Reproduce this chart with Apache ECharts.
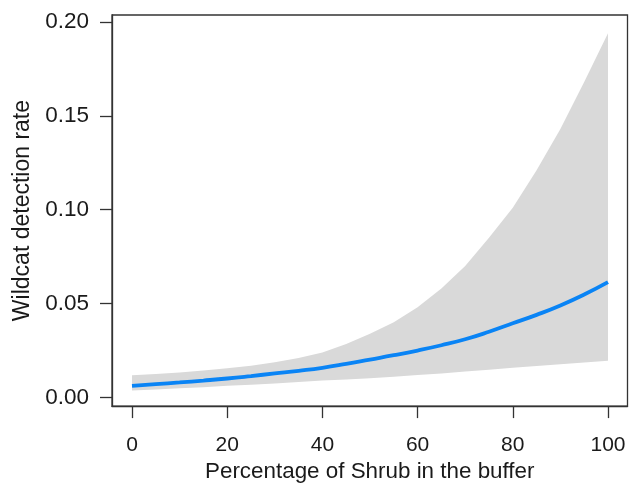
<!DOCTYPE html>
<html>
<head>
<meta charset="utf-8">
<script src="https://cdn.jsdelivr.net/npm/echarts@6/dist/echarts.min.js"></script>
<style>
html,body{margin:0;padding:0;background:#fff;}
#chart{width:629px;height:488px;}
</style>
</head>
<body>
<div id="chart"></div>
<script>
// Data
var shrubPct = [0,5,10,15,20,25,30,35,40,45,50,55,60,65,70,75,80,85,90,95,100];
var meanRate = [0.0062,0.0071,0.0080,0.0090,0.0101,0.0114,0.0128,0.0142,0.0158,0.0179,0.0202,0.0225,0.0250,0.0278,0.0310,0.0350,0.0395,0.0440,0.0490,0.0548,0.0614];
var lowerRate = [0.0037,0.0043,0.0049,0.0055,0.0062,0.0068,0.0075,0.0082,0.0090,0.0096,0.0102,0.0110,0.0120,0.0128,0.0138,0.0147,0.0158,0.0167,0.0177,0.0186,0.0195];
var upperRate = [0.0118,0.0125,0.0133,0.0143,0.0155,0.0169,0.0187,0.0210,0.0240,0.0285,0.0340,0.0400,0.0480,0.0580,0.0700,0.0850,0.1010,0.1210,0.1430,0.1680,0.1940];
var xTicks = [0,20,40,60,80,100];
var yTicks = [0,0.05,0.10,0.15,0.20];

var chart = echarts.init(document.getElementById('chart'), null, {renderer:'canvas'});
var font = '"Liberation Sans", Arial, sans-serif';
var txt = '#1a1a1a';

var bandData = shrubPct.map(function(x,i){return [x, lowerRate[i], upperRate[i]];});

chart.setOption({
  animation: false,
  backgroundColor: '#ffffff',
  grid: {left:112, right:1.5, top:15, bottom:81, show:true, borderColor:'#333', borderWidth:1.3, backgroundColor:'transparent'},
  xAxis: {
    type:'value', min:-4.2, max:104.1,
    name:'Percentage of Shrub in the buffer', nameLocation:'middle', nameGap:53,
    nameTextStyle:{fontFamily:font, fontSize:22.4, color:txt},
    axisLine:{show:true, onZero:false, lineStyle:{color:'#333', width:1.3}},
    axisTick:{show:true, length:12, customValues:xTicks, lineStyle:{color:'#333', width:1.3}},
    axisLabel:{customValues:xTicks, margin:29, fontFamily:font, fontSize:21, color:txt},
    splitLine:{show:false}
  },
  yAxis: {
    type:'value', min:-0.0046, max:0.2037,
    name:'Wildcat detection rate', nameLocation:'middle', nameGap:76,
    nameTextStyle:{fontFamily:font, fontSize:23, color:txt},
    axisLine:{show:true, onZero:false, lineStyle:{color:'#333', width:1.3}},
    axisTick:{show:true, length:12, customValues:yTicks, lineStyle:{color:'#333', width:1.3}},
    axisLabel:{customValues:yTicks, margin:23, fontFamily:font, fontSize:22.5, color:txt,
      formatter:function(v){return v.toFixed(2);}},
    splitLine:{show:false}
  },
  series: [
    {type:'custom', silent:true, data:bandData,
     encode:{x:0, y:[1,2]},
     renderItem:function(params, api){
       if (params.dataIndex !== 0) return null;
       var pts = [];
       for (var i=0;i<bandData.length;i++) pts.push(api.coord([bandData[i][0], bandData[i][2]]));
       for (var j=bandData.length-1;j>=0;j--) pts.push(api.coord([bandData[j][0], bandData[j][1]]));
       return {type:'polygon', shape:{points:pts}, style:{fill:'#d9d9d9', stroke:null}};
     }},
    {type:'line', symbol:'none', smooth:true,
     lineStyle:{color:'#0a84f5', width:3.8},
     data: shrubPct.map(function(x,i){return [x, meanRate[i]];})}
  ]
});
</script>
</body>
</html>
